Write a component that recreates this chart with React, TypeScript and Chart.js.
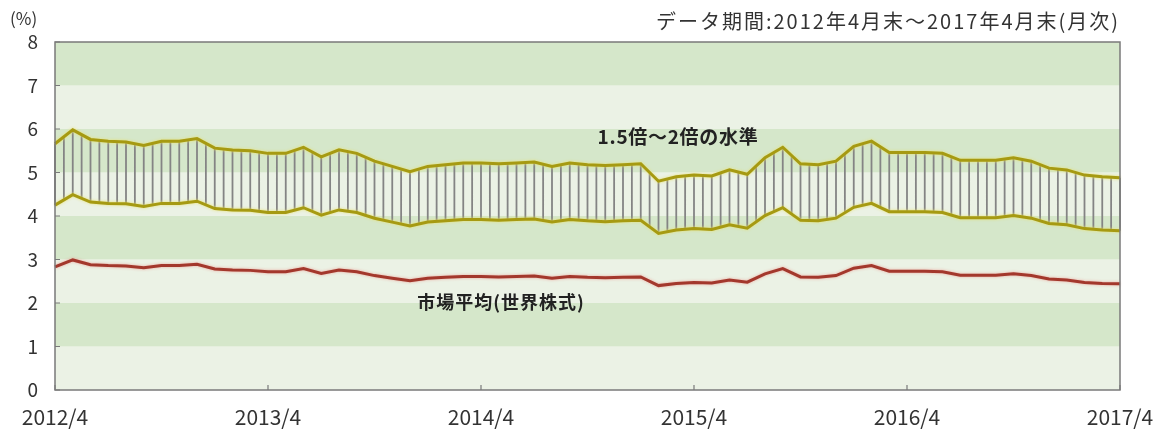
import React, { useEffect, useRef } from 'react';
import { Chart, registerables } from 'chart.js';

Chart.register(...registerables);

const months: string[] = [
  '2012/4', '2012/5', '2012/6', '2012/7', '2012/8', '2012/9', '2012/10', '2012/11', '2012/12',
  '2013/1', '2013/2', '2013/3', '2013/4', '2013/5', '2013/6', '2013/7', '2013/8', '2013/9', '2013/10', '2013/11', '2013/12',
  '2014/1', '2014/2', '2014/3', '2014/4', '2014/5', '2014/6', '2014/7', '2014/8', '2014/9', '2014/10', '2014/11', '2014/12',
  '2015/1', '2015/2', '2015/3', '2015/4', '2015/5', '2015/6', '2015/7', '2015/8', '2015/9', '2015/10', '2015/11', '2015/12',
  '2016/1', '2016/2', '2016/3', '2016/4', '2016/5', '2016/6', '2016/7', '2016/8', '2016/9', '2016/10', '2016/11', '2016/12',
  '2017/1', '2017/2', '2017/3', '2017/4',
];

const tickLabels: string[] = ['2012/4', '2013/4', '2014/4', '2015/4', '2016/4', '2017/4'];

// 市場平均(世界株式)
const market: number[] = [
  2.83, 2.99, 2.88, 2.86, 2.85, 2.81, 2.86, 2.86, 2.89, 2.78,
  2.76, 2.75, 2.72, 2.72, 2.79, 2.68, 2.76, 2.72, 2.63, 2.57,
  2.51, 2.57, 2.59, 2.61, 2.61, 2.60, 2.61, 2.62, 2.57, 2.61,
  2.59, 2.58, 2.59, 2.60, 2.40, 2.45, 2.47, 2.46, 2.53, 2.48,
  2.67, 2.79, 2.60, 2.59, 2.63, 2.80, 2.86, 2.73, 2.73, 2.73,
  2.72, 2.64, 2.64, 2.64, 2.67, 2.63, 2.55, 2.53, 2.47, 2.45,
  2.44,
];

// 2倍の水準
const upper: number[] = [
  5.66, 5.98, 5.76, 5.72, 5.70, 5.62, 5.72, 5.72, 5.78, 5.56,
  5.52, 5.50, 5.44, 5.44, 5.58, 5.36, 5.52, 5.44, 5.26, 5.14,
  5.02, 5.14, 5.18, 5.22, 5.22, 5.20, 5.22, 5.24, 5.14, 5.22,
  5.18, 5.16, 5.18, 5.20, 4.80, 4.90, 4.94, 4.92, 5.06, 4.96,
  5.34, 5.58, 5.20, 5.18, 5.26, 5.60, 5.72, 5.46, 5.46, 5.46,
  5.44, 5.28, 5.28, 5.28, 5.34, 5.26, 5.10, 5.06, 4.94, 4.90,
  4.88,
];

// 1.5倍の水準
const lower: number[] = [
  4.25, 4.49, 4.32, 4.29, 4.28, 4.22, 4.29, 4.29, 4.34, 4.17,
  4.14, 4.13, 4.08, 4.08, 4.19, 4.02, 4.14, 4.08, 3.95, 3.86,
  3.77, 3.86, 3.89, 3.92, 3.92, 3.90, 3.92, 3.93, 3.86, 3.92,
  3.89, 3.87, 3.89, 3.90, 3.60, 3.68, 3.71, 3.69, 3.80, 3.72,
  4.01, 4.19, 3.90, 3.89, 3.95, 4.20, 4.29, 4.10, 4.10, 4.10,
  4.08, 3.96, 3.96, 3.96, 4.01, 3.95, 3.83, 3.80, 3.71, 3.68,
  3.66,
];

const yTicks: number[] = [0, 1, 2, 3, 4, 5, 6, 7, 8];

const FONT = '"Noto Sans CJK JP", "Noto Sans", sans-serif';
const BAND_DARK = '#d5e7ca';
const BAND_LIGHT = '#ebf2e5';
const OLIVE = '#a69a12';
const RED = '#a3382c';
const TEXT = '#333333';
const GLOWS = ['rgba(232,226,110,0.95)', 'rgba(232,226,110,0.95)', 'rgba(236,160,150,0.9)'];

const decorPlugin = {
  id: 'decor',
  beforeDatasetsDraw(chart: any) {
    const { ctx, chartArea: a, scales } = chart;
    const x = scales.x;
    const y = scales.y;
    ctx.save();
    for (let v = 0; v < yTicks.length - 1; v++) {
      const top = y.getPixelForValue(yTicks[v + 1]);
      const bot = y.getPixelForValue(yTicks[v]);
      ctx.fillStyle = v % 2 === 1 ? BAND_DARK : BAND_LIGHT;
      ctx.fillRect(a.left, top, a.right - a.left, bot - top);
    }
    const up = chart.data.datasets[0].data as number[];
    const lo = chart.data.datasets[1].data as number[];
    const n = up.length;
    ctx.strokeStyle = '#848484';
    ctx.lineWidth = 1.8;
    ctx.beginPath();
    for (let k = 0; k <= (n - 1) * 2; k++) {
      const t = k / 2;
      const i = Math.floor(t);
      const j = Math.min(i + 1, n - 1);
      const f = t - i;
      const u = up[i] + (up[j] - up[i]) * f;
      const l = lo[i] + (lo[j] - lo[i]) * f;
      const px = x.getPixelForValue(t);
      ctx.moveTo(px, y.getPixelForValue(u));
      ctx.lineTo(px, y.getPixelForValue(l));
    }
    ctx.stroke();
    ctx.restore();
  },
  beforeDatasetDraw(chart: any, args: any) {
    const ctx = chart.ctx;
    ctx.save();
    ctx.shadowColor = GLOWS[args.index] || 'transparent';
    ctx.shadowBlur = 3;
  },
  afterDatasetDraw(chart: any) {
    chart.ctx.restore();
  },
  afterDraw(chart: any) {
    const { ctx, chartArea: a, scales } = chart;
    const x = scales.x;
    const y = scales.y;
    ctx.save();
    ctx.strokeStyle = '#7a7a7a';
    ctx.lineWidth = 1.5;
    ctx.strokeRect(a.left, a.top, a.right - a.left, a.bottom - a.top);
    ctx.beginPath();
    yTicks.forEach((v) => {
      const py = y.getPixelForValue(v);
      ctx.moveTo(a.left, py);
      ctx.lineTo(a.left + 5, py);
    });
    months.forEach((m, i) => {
      if (tickLabels.includes(m)) {
        const px = x.getPixelForValue(i);
        ctx.moveTo(px, a.bottom);
        ctx.lineTo(px, a.bottom - 5);
      }
    });
    ctx.lineWidth = 1.2;
    ctx.stroke();

    ctx.fillStyle = TEXT;
    ctx.textBaseline = 'middle';
    ctx.font = `17px ${FONT}`;
    ctx.textAlign = 'left';
    ctx.fillText('(%)', 10, 19);

    ctx.font = `20px ${FONT}`;
    ctx.textAlign = 'right';
    (ctx as any).letterSpacing = '2px';
    ctx.fillText('データ期間:2012年4月末～2017年4月末(月次)', 1120, 21);

    ctx.fillStyle = '#222222';
    ctx.textAlign = 'center';
    ctx.font = `bold 19px ${FONT}`;
    (ctx as any).letterSpacing = '0.7px';
    ctx.fillText('1.5倍～2倍の水準', 678, 137);
    ctx.font = `bold 18px ${FONT}`;
    (ctx as any).letterSpacing = '1px';
    ctx.fillText('市場平均(世界株式)', 501, 302);
    (ctx as any).letterSpacing = '0px';
    ctx.restore();
  },
};

export default function App() {
  const ref = useRef<HTMLCanvasElement | null>(null);
  useEffect(() => {
    if (!ref.current) return;
    const chart = new Chart(ref.current, {
      type: 'line',
      data: {
        labels: months,
        datasets: [
          {
            label: '2倍',
            data: upper,
            borderColor: OLIVE,
            borderWidth: 3,
            pointRadius: 0,
            tension: 0,
            fill: false,
          },
          {
            label: '1.5倍',
            data: lower,
            borderColor: OLIVE,
            borderWidth: 3,
            pointRadius: 0,
            tension: 0,
            fill: false,
          },
          {
            label: '市場平均(世界株式)',
            data: market,
            borderColor: RED,
            borderWidth: 3,
            pointRadius: 0,
            tension: 0,
            fill: false,
          },
        ],
      },
      options: {
        animation: false,
        responsive: true,
        maintainAspectRatio: false,
        layout: { padding: { top: 42, right: 39, left: 0, bottom: 0 } },
        plugins: {
          legend: { display: false },
          tooltip: { enabled: false },
          title: { display: false },
        },
        scales: {
          x: {
            type: 'category',
            offset: false,
            grid: { display: false, drawTicks: false },
            border: { display: false },
            afterFit: (s: any) => {
              s.height = 40;
              s.paddingLeft = 0;
              s.paddingRight = 0;
            },
            ticks: {
              autoSkip: false,
              maxRotation: 0,
              minRotation: 0,
              padding: 14,
              color: TEXT,
              font: { family: FONT, size: 21 },
              callback: function (this: any, value: any) {
                const lab = this.getLabelForValue(value);
                return tickLabels.includes(lab) ? lab : '';
              },
            },
          },
          y: {
            min: 0,
            max: 8,
            grid: { display: false, drawTicks: false },
            border: { display: false },
            afterFit: (s: any) => {
              s.width = 55;
              s.paddingTop = 0;
              s.paddingBottom = 0;
            },
            ticks: {
              stepSize: 1,
              padding: 17,
              color: TEXT,
              font: { family: FONT, size: 19 },
            },
          },
        },
      },
      plugins: [decorPlugin],
    });
    return () => chart.destroy();
  }, []);
  return (
    <div style={{ position: 'fixed', left: 0, top: 0, width: 1159, height: 430, background: '#fff' }}>
      <canvas ref={ref} />
    </div>
  );
}
